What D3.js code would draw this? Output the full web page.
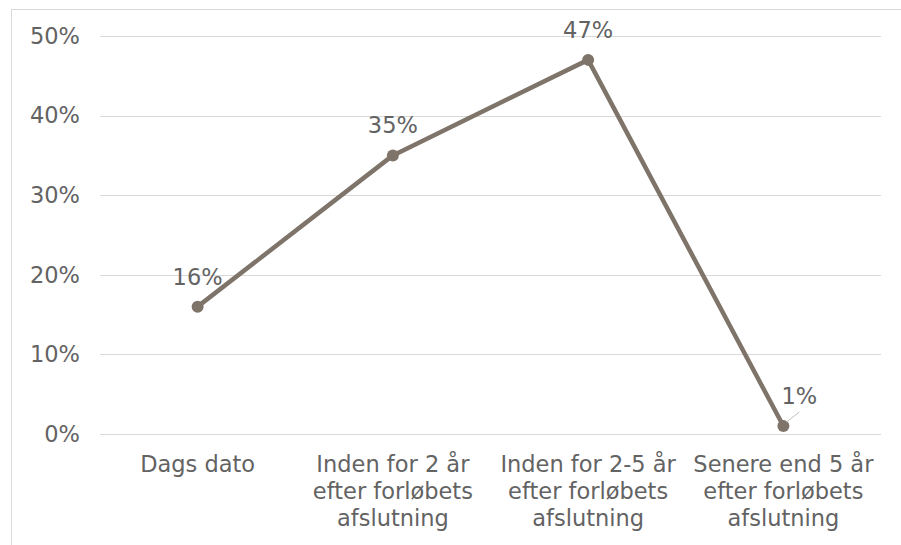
<!DOCTYPE html>
<html><head><meta charset="utf-8">
<script src="https://cdn.jsdelivr.net/npm/d3@7/dist/d3.min.js"></script>
<style>body{margin:0;background:#fff;} svg{display:block;}</style>
</head><body>
<svg id="c" width="901" height="545"></svg>
<script>
const categories = [["Dags dato"], ["Inden for 2 år","efter forløbets","afslutning"], ["Inden for 2-5 år","efter forløbets","afslutning"], ["Senere end 5 år","efter forløbets","afslutning"]];
const values = [0.16, 0.35, 0.47, 0.01];
const dataLabels = ["16%","35%","47%","1%"];
const yTicks = [0, 0.1, 0.2, 0.3, 0.4, 0.5];

const svg = d3.select("#c");
const font = "'DejaVu Sans', Verdana, sans-serif";
const fs = "22.5px";
const textColor = "#636363";
const lineColor = "#7f746a";

// chart border
svg.append("rect").attr("x",11.5).attr("y",9.5).attr("width",1000).attr("height",1000)
  .attr("fill","none").attr("stroke","#d9d9d9").attr("stroke-width",1);

const x = d3.scaleBand().domain(d3.range(categories.length)).range([100, 881]);
const y = d3.scaleLinear().domain([0, 0.5]).range([434, 36]);

// gridlines
svg.append("g").selectAll("line").data(yTicks).join("line")
  .attr("x1",100).attr("x2",881)
  .attr("y1",d=>Math.round(y(d))+0.5).attr("y2",d=>Math.round(y(d))+0.5)
  .attr("stroke","#d9d9d9").attr("stroke-width",1);

// y axis labels
const yAxis = d3.axisLeft(y).tickValues(yTicks).tickFormat(d3.format(".0%")).tickSize(0).tickPadding(0);
const ga = svg.append("g").attr("transform","translate(80,0)").call(yAxis);
ga.select(".domain").remove();
ga.selectAll("text").attr("fill",textColor).style("font-family",font).style("font-size",fs);

// x labels
const xl = svg.append("g").selectAll("text").data(categories).join("text")
  .attr("text-anchor","middle").attr("fill",textColor)
  .style("font-family",font).style("font-size",fs)
  .attr("transform",(d,i)=>`translate(${x(i)+x.bandwidth()/2},472)`);
xl.selectAll("tspan").data(d=>d).join("tspan")
  .attr("x",0).attr("dy",(d,i)=>i===0?0:27).text(d=>d);

// line
const line = d3.line().x((d,i)=>x(i)+x.bandwidth()/2).y(d=>y(d));
svg.append("path").datum(values).attr("d",line).attr("fill","none")
  .attr("stroke",lineColor).attr("stroke-width",4.5).attr("stroke-linejoin","round");

svg.append("g").selectAll("circle").data(values).join("circle")
  .attr("cx",(d,i)=>x(i)+x.bandwidth()/2).attr("cy",d=>y(d)).attr("r",6).attr("fill",lineColor);

// leader line for last label
const li = values.length-1;
svg.append("line")
  .attr("x1",x(li)+x.bandwidth()/2+3).attr("y1",y(values[li])-4)
  .attr("x2",x(li)+x.bandwidth()/2+16).attr("y2",y(values[li])-14)
  .attr("stroke","#bfbfbf").attr("stroke-width",1);

// data labels
svg.append("g").selectAll("text").data(values).join("text")
  .attr("text-anchor","middle").attr("fill",textColor)
  .style("font-family",font).style("font-size",fs)
  .attr("x",(d,i)=>x(i)+x.bandwidth()/2 + (i===li?16:0))
  .attr("y",(d,i)=>y(d) - 22)
  .text((d,i)=>dataLabels[i]);
</script>
</body></html>
